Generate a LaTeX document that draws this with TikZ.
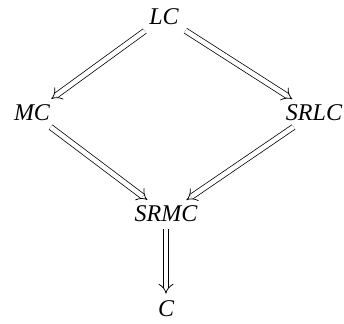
\documentclass[tikz,border=0pt]{standalone}
\usepackage{fontspec}
\setmainfont{Liberation Serif}
\usetikzlibrary{arrows.meta}
\begin{document}
\begin{tikzpicture}[x=1pt,y=1pt,
  lbl/.style={font=\fontsize{24}{28}\selectfont\itshape, inner sep=4pt},
  impl/.style={double, double distance=4.6pt, line width=0.75pt, -{Implies}, shorten >=3pt, shorten <=3pt}]
\useasboundingbox (0,0) rectangle (344,323);
\node[lbl] (LC) at (164,306) {LC};
\node[lbl] (MC) at (32,210) {MC};
\node[lbl] (SRLC) at (314,210) {SRLC};
\node[lbl] (SRMC) at (166,109) {SRMC};
\node[lbl] (C) at (166,14) {C};
\draw[impl] (LC) -- (MC);
\draw[impl] (LC) -- (SRLC);
\draw[impl] (MC) -- (SRMC);
\draw[impl] (SRLC) -- (SRMC);
\draw[impl] (SRMC.south) -- (C.north);
\end{tikzpicture}
\end{document}
